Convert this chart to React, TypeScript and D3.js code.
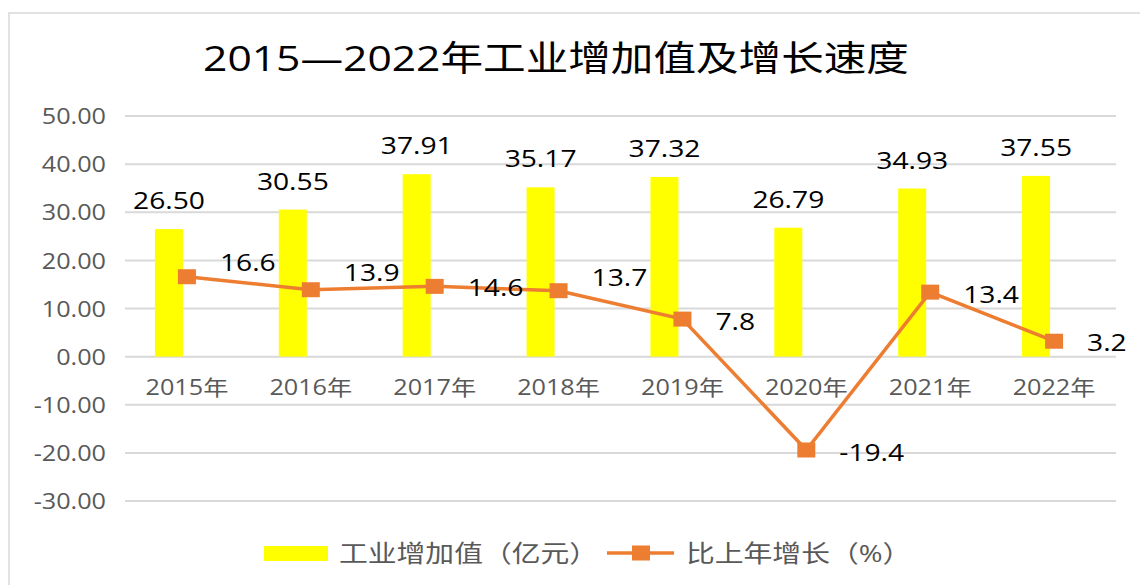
import React from "react";
import * as d3 from "d3";

const categories = ["2015年", "2016年", "2017年", "2018年", "2019年", "2020年", "2021年", "2022年"];
const industryValue = [26.5, 30.55, 37.91, 35.17, 37.32, 26.79, 34.93, 37.55];
const growthRate = [16.6, 13.9, 14.6, 13.7, 7.8, -19.4, 13.4, 3.2];
const yTicks = [50, 40, 30, 20, 10, 0, -10, -20, -30];
const titleText = "2015—2022年工业增加值及增长速度";
const barSeriesName = "工业增加值（亿元）";
const lineSeriesName = "比上年增长（%）";

// label vertical nudges (styling only)
const lineLabelNudge = [-15, -18, 1, -14, 2, 2, 2, 1];

const FONT = "'Open Sans', 'Noto Sans CJK SC', sans-serif";
const SX = 1.2; // horizontal stretch of the reference's text

const fmt2 = (v: number) => d3.format(".2f")(v).replace("\u2212", "-");

function T(props: { x: number; y: number; size: number; fill: string; anchor?: string; baseline?: string; children: any }) {
  return (
    <text
      transform={`translate(${props.x},${props.y}) scale(${SX},1)`}
      fontSize={props.size}
      fill={props.fill}
      textAnchor={props.anchor || "start"}
      dominantBaseline={props.baseline || "auto"}
      fontFamily={FONT}
    >
      {props.children}
    </text>
  );
}

export default function App() {
  const W = 1140, H = 585;
  const left = 125, right = 1116;
  const x = d3.scaleBand<string>().domain(categories).range([left, right]).padding(0);
  const y = d3.scaleLinear().domain([-30, 50]).range([501, 116]);
  const cx = (c: string) => (x(c) as number) + x.bandwidth() / 2;
  const barW = 28;
  const barShift = -18;
  const mW = 18, mH = 15;

  const line = d3
    .line<number>()
    .x((_, i) => cx(categories[i]))
    .y((d) => y(d));

  return (
    <svg width={W} height={H} style={{ position: "absolute", left: 0, top: 0, background: "#fff" }}>
      <rect x={9} y={13} width={1200} height={700} fill="#fff" stroke="#d9d9d9" strokeWidth={1.5} />
      <T x={556} y={71} size={35.5} fill="#000" anchor="middle">{titleText}</T>

      {yTicks.map((t) => (
        <g key={t}>
          <line x1={left} x2={right} y1={y(t)} y2={y(t)} stroke="#d9d9d9" strokeWidth={2} />
          <T x={106} y={y(t)} size={21} fill="#595959" anchor="end" baseline="central">
            {fmt2(t)}
          </T>
        </g>
      ))}

      {categories.map((c, i) => (
        <rect
          key={c}
          x={cx(c) + barShift - barW / 2}
          y={y(Math.max(0, industryValue[i]))}
          width={barW}
          height={Math.abs(y(industryValue[i]) - y(0))}
          fill="#ffff00"
        />
      ))}

      {categories.map((c) => (
        <T key={c} x={cx(c)} y={395} size={21} fill="#595959" anchor="middle">{c}</T>
      ))}

      {categories.map((c, i) => (
        <T key={c} x={cx(c) + barShift} y={y(industryValue[i]) - 20} size={23.5} fill="#000" anchor="middle">
          {fmt2(industryValue[i])}
        </T>
      ))}

      <path d={line(growthRate) || ""} fill="none" stroke="#ed7d31" strokeWidth={3.5} />
      {categories.map((c, i) => (
        <rect key={c} x={cx(c) - mW / 2} y={y(growthRate[i]) - mH / 2} width={mW} height={mH} fill="#ed7d31" />
      ))}
      {categories.map((c, i) => (
        <T key={c} x={cx(c) + 33} y={y(growthRate[i]) + lineLabelNudge[i]} size={23.5} fill="#000" baseline="central">
          {String(growthRate[i]).replace("\u2212", "-")}
        </T>
      ))}

      {/* legend */}
      <rect x={264} y={546} width={64} height={15} fill="#ffff00" />
      <T x={339} y={553} size={24} fill="#595959" baseline="central">{barSeriesName}</T>
      <line x1={607} x2={674} y1={553} y2={553} stroke="#ed7d31" strokeWidth={3.5} />
      <rect x={641 - mW / 2} y={553 - mH / 2} width={mW} height={mH} fill="#ed7d31" />
      <T x={686} y={553} size={24} fill="#595959" baseline="central">{lineSeriesName}</T>
    </svg>
  );
}
